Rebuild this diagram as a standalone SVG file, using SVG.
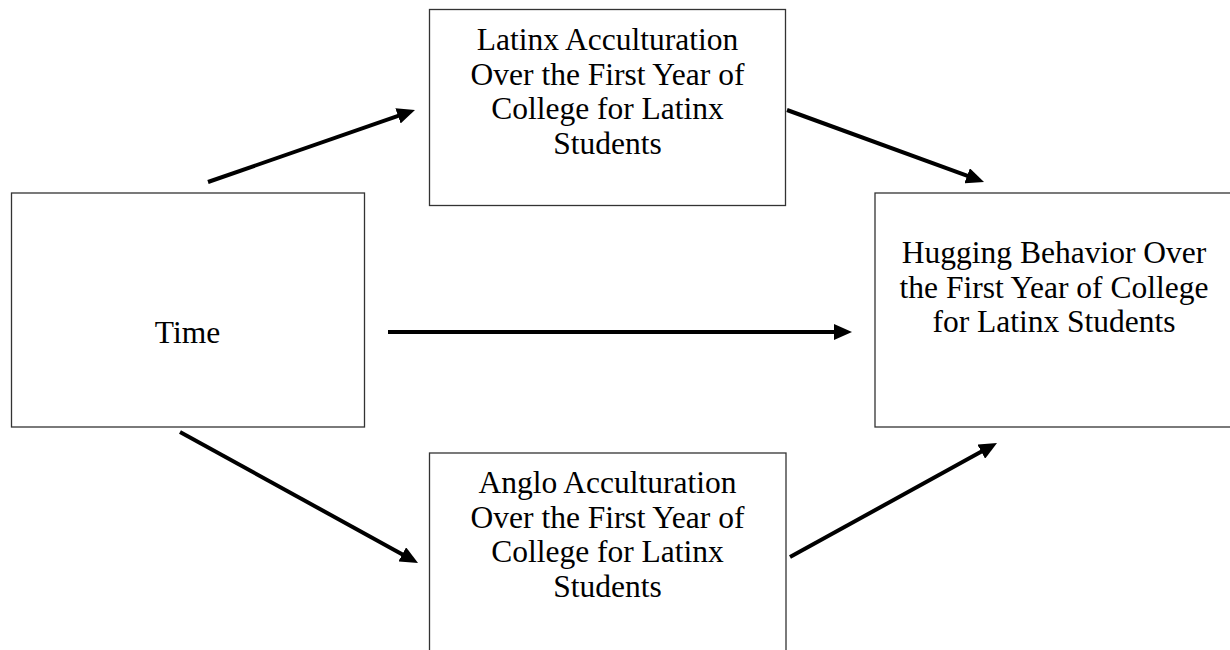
<svg xmlns="http://www.w3.org/2000/svg" width="1230" height="650" viewBox="0 0 1230 650">
<style>
.box{fill:#fff;stroke:#333;stroke-width:1.3}
.lbl{font-family:"Liberation Serif","Times New Roman",serif;font-size:31.5px;fill:#000;text-anchor:middle}
.conn{stroke:#000;stroke-width:4;fill:none;marker-end:url(#ah)}
</style>
<defs>
<marker id="ah" viewBox="0 0 18 16" markerUnits="userSpaceOnUse" markerWidth="18" markerHeight="16" refX="7" refY="8" orient="auto">
<path d="M0,0 L18,8 L0,16 z" fill="#000"/>
</marker>
</defs>
<rect width="1230" height="650" fill="#fff"/>
<g id="node-latinx">
<rect class="box" x="429.5" y="9.5" width="356" height="196"/>
<text class="lbl" x="607.5" y="50">Latinx Acculturation</text>
<text class="lbl" x="607.5" y="84.5">Over the First Year of</text>
<text class="lbl" x="607.5" y="119">College for Latinx</text>
<text class="lbl" x="607.5" y="153.5">Students</text>
</g>
<g id="node-time">
<rect class="box" x="11.5" y="193" width="353" height="234"/>
<text class="lbl" x="187.5" y="343">Time</text>
</g>
<g id="node-hugging">
<rect class="box" x="875" y="193" width="370" height="234"/>
<text class="lbl" x="1054" y="263">Hugging Behavior Over</text>
<text class="lbl" x="1054" y="297.5">the First Year of College</text>
<text class="lbl" x="1054" y="332">for Latinx Students</text>
</g>
<g id="node-anglo">
<rect class="box" x="429.5" y="453" width="356.5" height="220"/>
<text class="lbl" x="607.5" y="493">Anglo Acculturation</text>
<text class="lbl" x="607.5" y="527.5">Over the First Year of</text>
<text class="lbl" x="607.5" y="562">College for Latinx</text>
<text class="lbl" x="607.5" y="596.5">Students</text>
</g>
<g id="connectors">
<line class="conn" x1="208" y1="182" x2="404.6" y2="113.6"/>
<line class="conn" x1="787" y1="110" x2="973.7" y2="178.2"/>
<line class="conn" x1="388" y1="332" x2="841" y2="332"/>
<line class="conn" x1="180" y1="432" x2="408.4" y2="557.7"/>
<line class="conn" x1="790" y1="557" x2="987.4" y2="448.3"/>
</g>
</svg>
